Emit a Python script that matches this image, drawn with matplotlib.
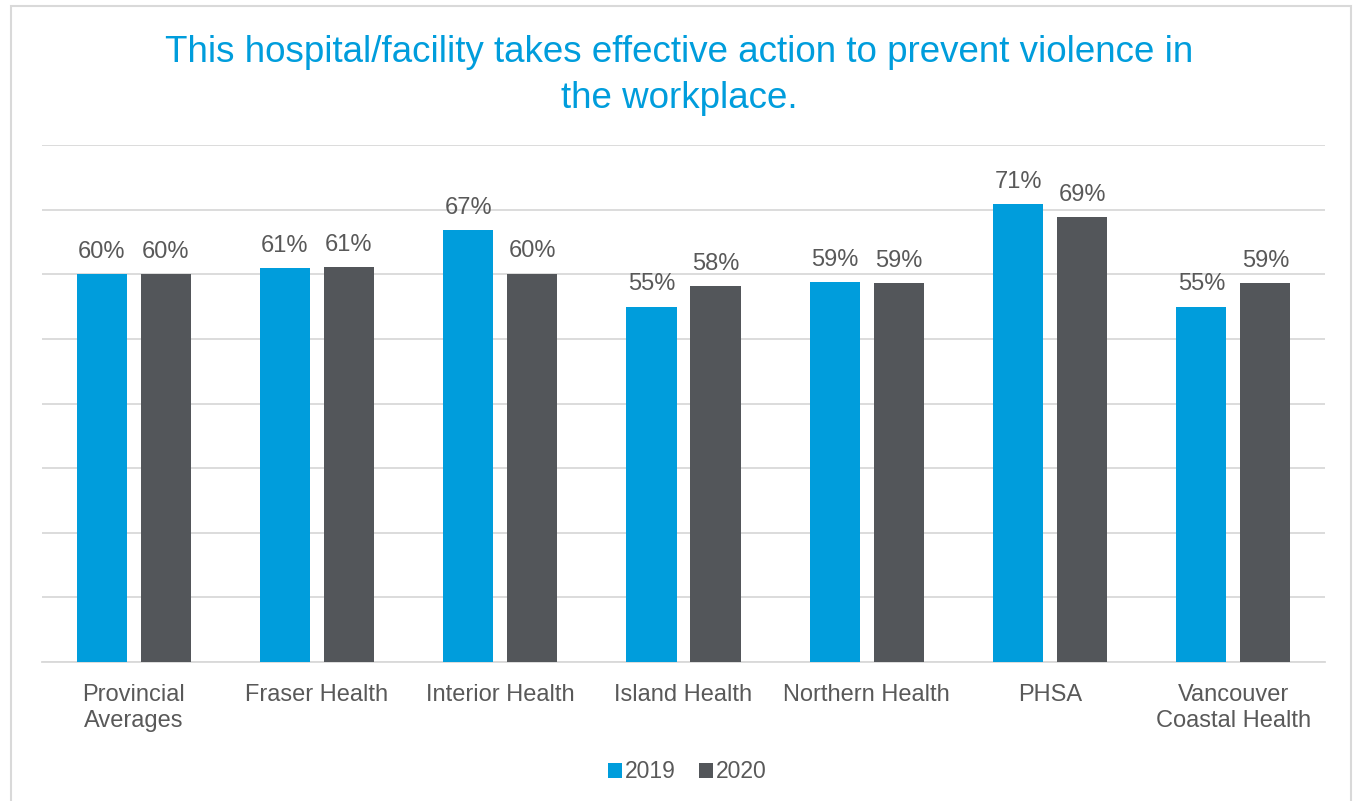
import numpy as np
import matplotlib.pyplot as plt
from matplotlib.patches import Rectangle

# data
categories = ['Provincial\nAverages', 'Fraser Health', 'Interior Health', 'Island Health',
              'Northern Health', 'PHSA', 'Vancouver\nCoastal Health']
vals2019 = [0.600, 0.609, 0.669, 0.550, 0.588, 0.709, 0.550]
vals2020 = [0.600, 0.611, 0.601, 0.582, 0.587, 0.689, 0.587]
labels2019 = ['60%', '61%', '67%', '55%', '59%', '71%', '55%']
labels2020 = ['60%', '61%', '60%', '58%', '59%', '69%', '59%']

blue = '#009DDC'
grey = '#53565A'
txt = '#595959'

plt.rcParams['font.family'] = ['Liberation Sans', 'DejaVu Sans']

fig = plt.figure(figsize=(13.58, 8.01), dpi=100)
fig.patches.append(Rectangle((11/1358, -0.05), 1340/1358, 1 - 6/801 + 0.05,
                             transform=fig.transFigure, fill=False,
                             edgecolor='#D9D9D9', linewidth=1.5))

ax = fig.add_axes([42/1358, 139/801, 1283/1358, 517/801])
x = np.arange(len(categories))
w = 0.273
off = 0.1745
b1 = ax.bar(x - off, vals2019, w, color=blue, label='2019', zorder=3)
b2 = ax.bar(x + off, vals2020, w, color=grey, label='2020', zorder=3)

for bars, labs in ((b1, labels2019), (b2, labels2020)):
    for r, lab in zip(bars, labs):
        ax.annotate(lab, (r.get_x() + r.get_width()/2, r.get_height()),
                    xytext=(0, 8), textcoords='offset points',
                    ha='center', va='bottom', fontsize=17, color=txt)

ax.set_xlim(-0.5, len(categories) - 0.5)
ax.set_ylim(0, 0.8)
ax.set_yticks(np.arange(0, 0.81, 0.1))
ax.yaxis.grid(True, color='#D9D9D9', linewidth=1.3, zorder=0)
ax.set_yticklabels([])
ax.tick_params(axis='y', length=0)
ax.tick_params(axis='x', length=0, pad=16, labelsize=17, labelcolor=txt)
ax.set_xticks(x)
ax.set_xticklabels(categories, linespacing=1.2)
for s in ['top', 'right', 'left']:
    ax.spines[s].set_visible(False)
ax.spines['bottom'].set_color('#D9D9D9')
ax.spines['bottom'].set_linewidth(1.3)

fig.text(0.5, 0.9058, 'This hospital/facility takes effective action to prevent violence in\nthe workplace.',
         ha='center', va='center', fontsize=26.5, color=blue, linespacing=1.38)

fig.legend(handles=[b1, b2], loc='center', bbox_to_anchor=(687/1358, 1 - 772/801),
           ncol=2, frameon=False, fontsize=16.5, labelcolor=txt,
           handlelength=0.65, handleheight=0.65, handletextpad=0.1, columnspacing=1.0)

fig.savefig('out.png', dpi=100)
